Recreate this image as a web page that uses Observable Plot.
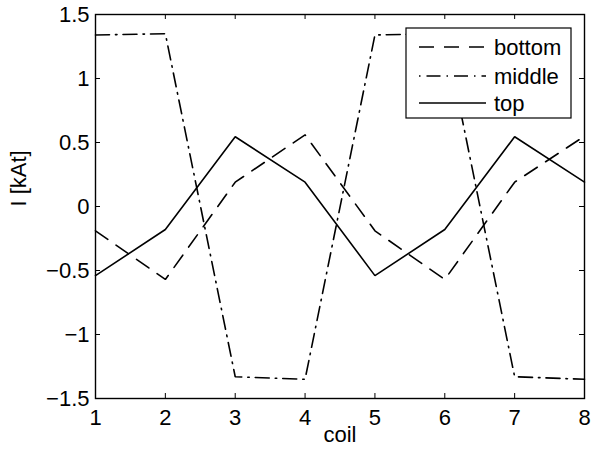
<!DOCTYPE html>
<html>
<head>
<meta charset="utf-8">
<script src="https://cdn.jsdelivr.net/npm/d3@7"></script>
<script src="https://cdn.jsdelivr.net/npm/@observablehq/plot@0.6"></script>
<style>
  html, body { margin: 0; padding: 0; background: #fff; }
  #chart { position: relative; width: 591px; height: 457px; }
</style>
</head>
<body>
<div id="chart"></div>
<script>
// ---- data ----
const coils = [1, 2, 3, 4, 5, 6, 7, 8];
const bottomValues = [-0.19, -0.57, 0.19, 0.56, -0.19, -0.57, 0.19, 0.55];
const middleValues = [1.34, 1.35, -1.33, -1.35, 1.34, 1.35, -1.33, -1.35];
const topValues = [-0.54, -0.18, 0.545, 0.19, -0.54, -0.18, 0.545, 0.19];
const seriesNames = ["bottom", "middle", "top"];
const xTicks = [1, 2, 3, 4, 5, 6, 7, 8];
const xTickLabels = ["1", "2", "3", "4", "5", "6", "7", "8"];
const yTicks = [-1.5, -1, -0.5, 0, 0.5, 1, 1.5];
const yTickLabels = ["\u22121.5", "\u22121", "\u22120.5", "0", "0.5", "1", "1.5"];
const xLabel = "coil";
const yLabel = "I [kAt]";

// ---- styles ----
const dashes = {bottom: "15,10", middle: "14,6,1.5,6", top: null};
const W = 591, H = 457;
const mL = 95, mR = 7, mT = 14, mB = 59;
const innerW = W - mL - mR, innerH = H - mT - mB;
const font = "'Liberation Sans', Arial, Helvetica, sans-serif";
const fs = 22;
const lw = 1.6;

const seriesValues = {bottom: bottomValues, middle: middleValues, top: topValues};
const rows = seriesNames.flatMap(s => coils.map((c, i) => ({series: s, coil: c, value: seriesValues[s][i]})));

const lineMarks = seriesNames.map(s => Plot.line(rows.filter(r => r.series === s), {
  x: "coil", y: "value", stroke: "black", strokeWidth: lw,
  strokeDasharray: dashes[s], strokeLinejoin: "miter"
}));

const chart = Plot.plot({
  width: W, height: H,
  marginLeft: mL, marginRight: mR, marginTop: mT, marginBottom: mB,
  style: {fontFamily: font, fontSize: fs + "px", color: "black", background: "white", overflow: "visible"},
  x: {domain: [1, 8]},
  y: {domain: [-1.5, 1.5]},
  marks: [
    Plot.axisX({ticks: xTicks, tickFormat: (d) => xTickLabels[xTicks.indexOf(d)], tickSize: 0, tickPadding: 11, label: null, fontSize: fs}),
    Plot.axisY({ticks: yTicks, tickFormat: (d) => yTickLabels[yTicks.indexOf(d)], tickSize: 0, tickPadding: 6, label: null, fontSize: fs}),
    ...lineMarks,
    // inward ticks on all four sides
    Plot.ruleX(xTicks, {x: d => d, insetTop: innerH - 5, stroke: "black", strokeWidth: 1}),
    Plot.ruleX(xTicks, {x: d => d, insetBottom: innerH - 5, stroke: "black", strokeWidth: 1}),
    Plot.ruleY(yTicks, {y: d => d, insetRight: innerW - 5, stroke: "black", strokeWidth: 1}),
    Plot.ruleY(yTicks, {y: d => d, insetLeft: innerW - 5, stroke: "black", strokeWidth: 1}),
    Plot.frame({stroke: "black", strokeWidth: 1.4}),
    Plot.text([xLabel], {text: d => d, frameAnchor: "bottom", dy: 43, fontSize: fs}),
    Plot.text([yLabel], {text: d => d, frameAnchor: "left", dx: -77, rotate: -90, fontSize: fs})
  ]
});
document.getElementById("chart").appendChild(chart);

// ---- legend (line-style key) ----
const svg = d3.select(chart);
const boxRight = W - mR - 13, boxTop = mT + 14;
const boxW = 165, boxH = 90;
const g = svg.append("g").attr("font-family", font).style("font-size", fs + "px").attr("text-anchor", "start");
g.append("rect").attr("x", boxRight - boxW).attr("y", boxTop).attr("width", boxW).attr("height", boxH)
  .attr("fill", "white").attr("stroke", "black").attr("stroke-width", 1.2);
const rowY = [19, 48, 75];
seriesNames.forEach((s, i) => {
  const y = boxTop + rowY[i];
  const x0 = boxRight - boxW + 13;
  g.append("line").attr("x1", x0).attr("x2", x0 + 67).attr("y1", y).attr("y2", y)
    .attr("stroke", "black").attr("stroke-width", lw)
    .attr("stroke-dasharray", s === "middle" ? "1.5,6,14,6" : dashes[s]);
  g.append("text").attr("x", x0 + 75).attr("y", y).attr("dy", "0.35em")
    .style("text-anchor", "start").text(s);
});
</script>
</body>
</html>
